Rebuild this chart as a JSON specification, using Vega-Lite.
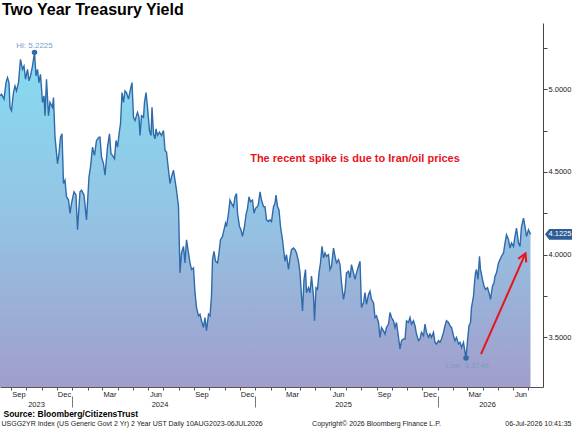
{
  "$schema": "https://vega.github.io/schema/vega-lite/v6.json",
  "width": 543,
  "height": 364,
  "autosize": {"type": "none"},
  "padding": {"left": 0, "top": 23, "right": 29, "bottom": 41},
  "background": "white",
  "config": {"view": {"stroke": null}, "font": "Liberation Sans"},
  "title": {"text": "Two Year Treasury Yield", "anchor": "start", "frame": "group", "fontSize": 16, "fontWeight": "bold", "font": "Liberation Sans", "color": "#000000", "baseline": "alphabetic", "offset": 6, "dx": 2, "dy": 14},
  "datasets": {
    "ts": [
      {"d":"2023-08-10","v":4.96},{"d":"2023-08-13","v":4.97},{"d":"2023-08-18","v":4.94},{"d":"2023-08-22","v":5.04},{"d":"2023-08-25","v":5.07},{"d":"2023-08-28","v":5.04},{"d":"2023-08-30","v":4.89},
      {"d":"2023-09-02","v":4.87},{"d":"2023-09-06","v":4.98},{"d":"2023-09-09","v":5.02},{"d":"2023-09-12","v":4.99},{"d":"2023-09-16","v":5.04},{"d":"2023-09-20","v":5.18},{"d":"2023-09-24","v":5.12},{"d":"2023-09-27","v":5.14},{"d":"2023-09-30","v":5.06},
      {"d":"2023-10-04","v":5.12},{"d":"2023-10-07","v":5.05},{"d":"2023-10-10","v":5.08},{"d":"2023-10-14","v":5.14},{"d":"2023-10-18","v":5.2225},{"d":"2023-10-21","v":5.08},{"d":"2023-10-24","v":5.12},{"d":"2023-10-27","v":5.04},{"d":"2023-10-30","v":5.09},
      {"d":"2023-11-03","v":4.92},{"d":"2023-11-06","v":4.96},{"d":"2023-11-08","v":4.84},{"d":"2023-11-11","v":5.06},{"d":"2023-11-15","v":4.84},{"d":"2023-11-18","v":4.92},{"d":"2023-11-23","v":4.89},{"d":"2023-11-25","v":4.95},{"d":"2023-11-28","v":4.71},
      {"d":"2023-12-03","v":4.55},{"d":"2023-12-06","v":4.61},{"d":"2023-12-09","v":4.71},{"d":"2023-12-12","v":4.73},{"d":"2023-12-15","v":4.43},{"d":"2023-12-18","v":4.45},{"d":"2023-12-21","v":4.35},{"d":"2023-12-25","v":4.33},{"d":"2023-12-28","v":4.25},{"d":"2023-12-31","v":4.31},
      {"d":"2024-01-05","v":4.38},{"d":"2024-01-09","v":4.36},{"d":"2024-01-12","v":4.15},{"d":"2024-01-17","v":4.38},{"d":"2024-01-20","v":4.39},{"d":"2024-01-25","v":4.36},{"d":"2024-01-30","v":4.21},
      {"d":"2024-02-04","v":4.47},{"d":"2024-02-07","v":4.53},{"d":"2024-02-11","v":4.65},{"d":"2024-02-15","v":4.60},{"d":"2024-02-19","v":4.69},{"d":"2024-02-24","v":4.71},{"d":"2024-02-26","v":4.71},{"d":"2024-02-29","v":4.59},
      {"d":"2024-03-04","v":4.55},{"d":"2024-03-07","v":4.48},{"d":"2024-03-12","v":4.65},{"d":"2024-03-16","v":4.73},{"d":"2024-03-19","v":4.61},{"d":"2024-03-22","v":4.60},{"d":"2024-03-26","v":4.58},{"d":"2024-03-29","v":4.69},
      {"d":"2024-04-01","v":4.65},{"d":"2024-04-05","v":4.75},{"d":"2024-04-07","v":4.79},{"d":"2024-04-10","v":4.98},{"d":"2024-04-13","v":4.92},{"d":"2024-04-16","v":4.99},{"d":"2024-04-19","v":4.98},{"d":"2024-04-23","v":4.94},{"d":"2024-04-27","v":5.00},{"d":"2024-04-30","v":5.04},
      {"d":"2024-05-03","v":4.83},{"d":"2024-05-06","v":4.81},{"d":"2024-05-11","v":4.86},{"d":"2024-05-14","v":4.83},{"d":"2024-05-16","v":4.72},{"d":"2024-05-19","v":4.84},{"d":"2024-05-23","v":4.83},{"d":"2024-05-25","v":4.92},{"d":"2024-05-28","v":4.98},{"d":"2024-05-31","v":4.89},
      {"d":"2024-06-04","v":4.75},{"d":"2024-06-07","v":4.72},{"d":"2024-06-09","v":4.89},{"d":"2024-06-12","v":4.73},{"d":"2024-06-15","v":4.70},{"d":"2024-06-17","v":4.76},{"d":"2024-06-20","v":4.72},{"d":"2024-06-24","v":4.74},{"d":"2024-06-28","v":4.72},
      {"d":"2024-07-02","v":4.75},{"d":"2024-07-05","v":4.63},{"d":"2024-07-08","v":4.62},{"d":"2024-07-12","v":4.51},{"d":"2024-07-15","v":4.43},{"d":"2024-07-18","v":4.47},{"d":"2024-07-22","v":4.51},{"d":"2024-07-25","v":4.45},{"d":"2024-07-28","v":4.39},
      {"d":"2024-08-01","v":4.29},{"d":"2024-08-04","v":3.89},{"d":"2024-08-07","v":4.01},{"d":"2024-08-11","v":4.05},{"d":"2024-08-14","v":3.95},{"d":"2024-08-17","v":4.09},{"d":"2024-08-21","v":4.01},{"d":"2024-08-24","v":3.95},{"d":"2024-08-27","v":3.91},{"d":"2024-08-31","v":3.92},
      {"d":"2024-09-03","v":3.77},{"d":"2024-09-06","v":3.68},{"d":"2024-09-10","v":3.63},{"d":"2024-09-13","v":3.64},{"d":"2024-09-16","v":3.60},{"d":"2024-09-20","v":3.56},{"d":"2024-09-23","v":3.62},{"d":"2024-09-26","v":3.54},{"d":"2024-09-30","v":3.64},
      {"d":"2024-10-03","v":3.63},{"d":"2024-10-06","v":3.75},{"d":"2024-10-08","v":3.97},{"d":"2024-10-11","v":4.02},{"d":"2024-10-14","v":3.96},{"d":"2024-10-18","v":3.95},{"d":"2024-10-21","v":4.01},{"d":"2024-10-24","v":4.09},{"d":"2024-10-28","v":4.11},{"d":"2024-10-31","v":4.15},
      {"d":"2024-11-03","v":4.19},{"d":"2024-11-05","v":4.17},{"d":"2024-11-09","v":4.25},{"d":"2024-11-12","v":4.33},{"d":"2024-11-15","v":4.31},{"d":"2024-11-19","v":4.29},{"d":"2024-11-22","v":4.35},{"d":"2024-11-25","v":4.37},{"d":"2024-11-27","v":4.25},
      {"d":"2024-12-01","v":4.17},{"d":"2024-12-04","v":4.15},{"d":"2024-12-07","v":4.11},{"d":"2024-12-11","v":4.17},{"d":"2024-12-14","v":4.24},{"d":"2024-12-17","v":4.28},{"d":"2024-12-20","v":4.35},{"d":"2024-12-23","v":4.32},{"d":"2024-12-27","v":4.33},{"d":"2024-12-30","v":4.25},
      {"d":"2025-01-02","v":4.28},{"d":"2025-01-06","v":4.29},{"d":"2025-01-08","v":4.31},{"d":"2025-01-11","v":4.38},{"d":"2025-01-14","v":4.33},{"d":"2025-01-18","v":4.29},{"d":"2025-01-21","v":4.29},{"d":"2025-01-24","v":4.21},{"d":"2025-01-28","v":4.20},{"d":"2025-01-31","v":4.21},
      {"d":"2025-02-03","v":4.20},{"d":"2025-02-07","v":4.29},{"d":"2025-02-10","v":4.31},{"d":"2025-02-12","v":4.36},{"d":"2025-02-15","v":4.29},{"d":"2025-02-18","v":4.27},{"d":"2025-02-21","v":4.17},{"d":"2025-02-25","v":4.09},{"d":"2025-02-28","v":4.01},
      {"d":"2025-03-02","v":3.96},{"d":"2025-03-05","v":4.00},{"d":"2025-03-09","v":3.91},{"d":"2025-03-12","v":3.98},{"d":"2025-03-15","v":4.03},{"d":"2025-03-19","v":4.04},{"d":"2025-03-22","v":4.03},{"d":"2025-03-25","v":4.01},{"d":"2025-03-29","v":3.96},
      {"d":"2025-04-01","v":3.89},{"d":"2025-04-04","v":3.75},{"d":"2025-04-06","v":3.66},{"d":"2025-04-09","v":3.85},{"d":"2025-04-12","v":3.91},{"d":"2025-04-14","v":3.77},{"d":"2025-04-18","v":3.80},{"d":"2025-04-21","v":3.77},{"d":"2025-04-24","v":3.87},{"d":"2025-04-28","v":3.75},{"d":"2025-04-30","v":3.60},
      {"d":"2025-05-03","v":3.80},{"d":"2025-05-06","v":3.79},{"d":"2025-05-09","v":3.89},{"d":"2025-05-12","v":3.95},{"d":"2025-05-15","v":4.05},{"d":"2025-05-18","v":3.98},{"d":"2025-05-21","v":4.01},{"d":"2025-05-24","v":3.99},{"d":"2025-05-28","v":4.00},{"d":"2025-05-31","v":3.91},
      {"d":"2025-06-03","v":3.93},{"d":"2025-06-07","v":4.04},{"d":"2025-06-10","v":3.99},{"d":"2025-06-13","v":3.95},{"d":"2025-06-17","v":3.97},{"d":"2025-06-20","v":3.94},{"d":"2025-06-23","v":3.83},{"d":"2025-06-27","v":3.73},{"d":"2025-06-30","v":3.78},
      {"d":"2025-07-03","v":3.89},{"d":"2025-07-07","v":3.90},{"d":"2025-07-10","v":3.86},{"d":"2025-07-13","v":3.94},{"d":"2025-07-17","v":3.89},{"d":"2025-07-20","v":3.85},{"d":"2025-07-23","v":3.89},{"d":"2025-07-27","v":3.93},{"d":"2025-07-30","v":3.96},
      {"d":"2025-08-02","v":3.68},{"d":"2025-08-06","v":3.71},{"d":"2025-08-09","v":3.77},{"d":"2025-08-12","v":3.70},{"d":"2025-08-16","v":3.76},{"d":"2025-08-19","v":3.78},{"d":"2025-08-22","v":3.73},{"d":"2025-08-26","v":3.71},{"d":"2025-08-29","v":3.62},
      {"d":"2025-09-01","v":3.63},{"d":"2025-09-05","v":3.59},{"d":"2025-09-08","v":3.50},{"d":"2025-09-11","v":3.56},{"d":"2025-09-15","v":3.54},{"d":"2025-09-18","v":3.52},{"d":"2025-09-21","v":3.56},{"d":"2025-09-25","v":3.58},{"d":"2025-09-28","v":3.65},
      {"d":"2025-10-01","v":3.62},{"d":"2025-10-05","v":3.60},{"d":"2025-10-08","v":3.56},{"d":"2025-10-11","v":3.59},{"d":"2025-10-15","v":3.50},{"d":"2025-10-18","v":3.43},{"d":"2025-10-21","v":3.48},{"d":"2025-10-25","v":3.49},{"d":"2025-10-28","v":3.49},{"d":"2025-10-31","v":3.60},
      {"d":"2025-11-04","v":3.59},{"d":"2025-11-07","v":3.62},{"d":"2025-11-10","v":3.58},{"d":"2025-11-14","v":3.60},{"d":"2025-11-17","v":3.57},{"d":"2025-11-20","v":3.52},{"d":"2025-11-24","v":3.48},{"d":"2025-11-27","v":3.49},{"d":"2025-11-30","v":3.53},
      {"d":"2025-12-04","v":3.51},{"d":"2025-12-07","v":3.58},{"d":"2025-12-10","v":3.53},{"d":"2025-12-14","v":3.50},{"d":"2025-12-17","v":3.52},{"d":"2025-12-20","v":3.50},{"d":"2025-12-24","v":3.53},{"d":"2025-12-27","v":3.47},{"d":"2025-12-30","v":3.46},
      {"d":"2026-01-03","v":3.48},{"d":"2026-01-06","v":3.47},{"d":"2026-01-09","v":3.49},{"d":"2026-01-13","v":3.53},{"d":"2026-01-16","v":3.57},{"d":"2026-01-19","v":3.60},{"d":"2026-01-23","v":3.59},{"d":"2026-01-26","v":3.57},{"d":"2026-01-29","v":3.56},
      {"d":"2026-02-02","v":3.51},{"d":"2026-02-05","v":3.48},{"d":"2026-02-08","v":3.50},{"d":"2026-02-12","v":3.46},{"d":"2026-02-15","v":3.47},{"d":"2026-02-18","v":3.44},{"d":"2026-02-22","v":3.47},{"d":"2026-02-24","v":3.43},{"d":"2026-02-27","v":3.3749},
      {"d":"2026-03-02","v":3.48},{"d":"2026-03-05","v":3.57},{"d":"2026-03-08","v":3.59},{"d":"2026-03-10","v":3.68},{"d":"2026-03-14","v":3.75},{"d":"2026-03-16","v":3.83},{"d":"2026-03-18","v":3.89},{"d":"2026-03-20","v":3.91},{"d":"2026-03-23","v":3.85},{"d":"2026-03-26","v":3.99},{"d":"2026-03-28","v":3.91},
      {"d":"2026-04-01","v":3.85},{"d":"2026-04-04","v":3.81},{"d":"2026-04-07","v":3.79},{"d":"2026-04-11","v":3.80},{"d":"2026-04-14","v":3.77},{"d":"2026-04-17","v":3.73},{"d":"2026-04-21","v":3.81},{"d":"2026-04-24","v":3.83},{"d":"2026-04-26","v":3.87},{"d":"2026-04-29","v":3.89},
      {"d":"2026-05-03","v":3.95},{"d":"2026-05-06","v":3.97},{"d":"2026-05-09","v":3.99},{"d":"2026-05-13","v":4.01},{"d":"2026-05-16","v":4.07},{"d":"2026-05-19","v":4.12},{"d":"2026-05-23","v":4.09},{"d":"2026-05-26","v":4.04},{"d":"2026-05-29","v":4.07},
      {"d":"2026-06-02","v":4.05},{"d":"2026-06-05","v":4.11},{"d":"2026-06-08","v":4.16},{"d":"2026-06-12","v":4.07},{"d":"2026-06-15","v":4.05},{"d":"2026-06-18","v":4.17},{"d":"2026-06-22","v":4.22},{"d":"2026-06-25","v":4.17},{"d":"2026-06-28","v":4.11},
      {"d":"2026-07-02","v":4.15},{"d":"2026-07-06","v":4.1225}
    ],
    "ext": [{"d":"2023-10-18","v":5.2225},{"d":"2026-02-27","v":3.3749}],
    "hi": [{"d":"2023-10-18","v":5.2225,"label":"Hi: 5.2225"}],
    "lo": [{"d":"2026-02-27","v":3.3749,"label":"Low: 3.3749"}],
    "last": [{"d":"2026-07-06","v":4.1225,"label":"4.1225"}],
    "ann": [{"d":"2025-07-20","v":4.578,"label":"The recent spike is due to Iran/oil prices"}],
    "arrow": [{"d":"2026-03-29","v":3.399,"d2":"2026-06-26","v2":4.008}],
    "head": [{"d":"2026-06-26","v":4.008}]
  },
  "layer": [
    {
      "data": {"name": "ts"},
      "mark": {"type": "area", "clip": true, "color": {"gradient": "linear", "x1": 0, "y1": 0, "x2": 0, "y2": 1, "stops": [{"offset": 0, "color": "#86dcf2"}, {"offset": 0.5, "color": "#94c3e3"}, {"offset": 1, "color": "#a19ecb"}]}},
      "encoding": {
        "x": {"field": "d", "type": "temporal", "scale": {"domain": [{"year": 2023, "month": 8, "date": 10}, {"year": 2026, "month": 7, "date": 31}], "nice": false},
              "axis": {"orient": "bottom", "tickCount": {"interval": "month", "step": 1}, "labels": false, "grid": false, "tickSize": 3, "tickColor": "#555555", "domainColor": "#555555",
                       "title": "USGG2YR Index (US Generic Govt 2 Yr) 2 Year UST Daily 10AUG2023-06JUL2026", "titleX": 1, "titleY": 36, "titleAlign": "left", "titleAnchor": "start", "titleBaseline": "middle", "titleFontSize": 7, "titleFontWeight": "normal", "titleColor": "#222222", "titleFont": "Liberation Sans"}},
        "y": {"field": "v", "type": "quantitative", "scale": {"domain": [3.2, 5.4], "zero": false, "nice": false},
              "axis": {"orient": "right", "values": [3.5, 3.75, 4, 4.25, 4.5, 4.75, 5, 5.25], "labelExpr": "datum.value % 0.5 === 0 ? format(datum.value, '.4f') : ''", "grid": false, "title": null, "tickSize": 4, "tickColor": "#444444", "domainColor": "#444444", "labelFontSize": 7.5, "labelColor": "#222222", "labelPadding": 1, "labelFont": "Liberation Sans", "labelOverlap": false}},
        "y2": {"datum": 3.2}
      }
    },
    {
      "data": {"name": "ts"},
      "mark": {"type": "line", "color": "#2f6aab", "strokeWidth": 1.4},
      "encoding": {
        "x": {"field": "d", "type": "temporal", "scale": {"domain": [{"year": 2023, "month": 8, "date": 10}, {"year": 2026, "month": 7, "date": 31}], "nice": false},
              "axis": {"orient": "bottom", "values": [{"year": 2023, "month": 9, "date": 16}, {"year": 2023, "month": 12, "date": 16}, {"year": 2024, "month": 3, "date": 16}, {"year": 2024, "month": 6, "date": 16}, {"year": 2024, "month": 9, "date": 16}, {"year": 2024, "month": 12, "date": 16}, {"year": 2025, "month": 3, "date": 16}, {"year": 2025, "month": 6, "date": 16}, {"year": 2025, "month": 9, "date": 16}, {"year": 2025, "month": 12, "date": 16}, {"year": 2026, "month": 3, "date": 16}, {"year": 2026, "month": 6, "date": 16}],
                       "format": "%b", "tickSize": 0, "domain": false, "grid": false, "labelPadding": 3, "labelFontSize": 7.5, "labelColor": "#222222", "labelFont": "Liberation Sans", "labelOverlap": false, "labelFlush": false, "labelBound": false,
                       "title": "Copyright\u00a9 2026 Bloomberg Finance L.P.", "titleX": 376, "titleY": 36, "titleAlign": "center", "titleAnchor": "middle", "titleBaseline": "middle", "titleFontSize": 7, "titleFontWeight": "normal", "titleColor": "#222222", "titleFont": "Liberation Sans"}},
        "y": {"field": "v", "type": "quantitative", "scale": {"domain": [3.2, 5.4], "zero": false, "nice": false}, "axis": null}
      }
    },
    {
      "data": {"name": "ext"},
      "mark": {"type": "point", "filled": true, "color": "#2f6aab", "size": 30, "opacity": 1},
      "encoding": {
        "x": {"field": "d", "type": "temporal", "scale": {"domain": [{"year": 2023, "month": 8, "date": 10}, {"year": 2026, "month": 7, "date": 31}], "nice": false},
              "axis": {"orient": "bottom", "values": [{"year": 2023, "month": 10, "date": 21}, {"year": 2024, "month": 6, "date": 24}, {"year": 2025, "month": 6, "date": 26}, {"year": 2026, "month": 4, "date": 10}],
                       "format": "%Y", "offset": 10, "tickSize": 0, "domain": false, "grid": false, "labelPadding": 3, "labelFontSize": 7.5, "labelColor": "#222222", "labelFont": "Liberation Sans", "labelOverlap": false, "labelFlush": false, "labelBound": false,
                       "title": "06-Jul-2026 10:41:35", "titleX": 571, "titleY": 26, "titleAlign": "right", "titleAnchor": "end", "titleBaseline": "middle", "titleFontSize": 7, "titleFontWeight": "normal", "titleColor": "#222222", "titleFont": "Liberation Sans"}},
        "y": {"field": "v", "type": "quantitative", "scale": {"domain": [3.2, 5.4], "zero": false, "nice": false}, "axis": null}
      }
    },
    {
      "data": {"name": "hi"},
      "mark": {"type": "text", "align": "center", "baseline": "middle", "dy": -6, "fontSize": 8, "color": "#7b9cc7", "font": "Liberation Sans"},
      "encoding": {
        "x": {"field": "d", "type": "temporal", "scale": {"domain": [{"year": 2023, "month": 8, "date": 10}, {"year": 2026, "month": 7, "date": 31}], "nice": false},
              "axis": {"orient": "bottom", "values": [{"year": 2024, "month": 1, "date": 1}, {"year": 2025, "month": 1, "date": 1}, {"year": 2026, "month": 1, "date": 1}],
                       "labels": false, "offset": 9, "tickSize": 11, "tickColor": "#777777", "domain": false, "grid": false,
                       "title": "Source: Bloomberg/CitizensTrust", "titleX": 3, "titleY": 17.5, "titleAlign": "left", "titleAnchor": "start", "titleBaseline": "middle", "titleFontSize": 8.5, "titleFontWeight": "bold", "titleColor": "#000000", "titleFont": "Liberation Sans"}},
        "y": {"field": "v", "type": "quantitative", "scale": {"domain": [3.2, 5.4], "zero": false, "nice": false}, "axis": null},
        "text": {"field": "label"}
      }
    },
    {
      "data": {"name": "lo"},
      "mark": {"type": "text", "align": "center", "baseline": "middle", "dy": 8, "dx": 1, "fontSize": 8, "color": "#7b9cc7", "font": "Liberation Sans"},
      "encoding": {
        "x": {"field": "d", "type": "temporal", "axis": null},
        "y": {"field": "v", "type": "quantitative", "axis": null},
        "text": {"field": "label"}
      }
    },
    {
      "data": {"name": "ann"},
      "mark": {"type": "text", "align": "center", "baseline": "middle", "fontSize": 11, "fontWeight": "bold", "color": "#e8141c", "font": "Liberation Sans"},
      "encoding": {
        "x": {"field": "d", "type": "temporal", "axis": null},
        "y": {"field": "v", "type": "quantitative", "axis": null},
        "text": {"field": "label"}
      }
    },
    {
      "data": {"name": "arrow"},
      "mark": {"type": "rule", "color": "#e8141c", "strokeWidth": 2},
      "encoding": {
        "x": {"field": "d", "type": "temporal", "axis": null},
        "y": {"field": "v", "type": "quantitative", "axis": null},
        "x2": {"field": "d2"},
        "y2": {"field": "v2"}
      }
    },
    {
      "data": {"name": "head"},
      "mark": {"type": "point", "shape": "M -0.55 1 L 0 0 L 0.55 1", "filled": false, "color": "#e8141c", "strokeWidth": 2, "size": 256, "angle": 24, "opacity": 1},
      "encoding": {
        "x": {"field": "d", "type": "temporal", "axis": null},
        "y": {"field": "v", "type": "quantitative", "axis": null}
      }
    },
    {
      "data": {"name": "last"},
      "mark": {"type": "point", "shape": "M -1 0 L -0.72 -0.36 L 1 -0.36 L 1 0.36 L -0.72 0.36 Z", "filled": true, "color": "#2d5d96", "size": 900, "xOffset": 29.5, "opacity": 1},
      "encoding": {
        "x": {"field": "d", "type": "temporal", "axis": null},
        "y": {"field": "v", "type": "quantitative", "axis": null}
      }
    },
    {
      "data": {"name": "last"},
      "mark": {"type": "text", "align": "left", "baseline": "middle", "dx": 18, "fontSize": 7.5, "color": "#ffffff", "font": "Liberation Sans"},
      "encoding": {
        "x": {"field": "d", "type": "temporal", "axis": null},
        "y": {"field": "v", "type": "quantitative", "axis": null},
        "text": {"field": "label"}
      }
    }
  ],
  "resolve": {"axis": {"x": "independent", "y": "independent"}}
}
